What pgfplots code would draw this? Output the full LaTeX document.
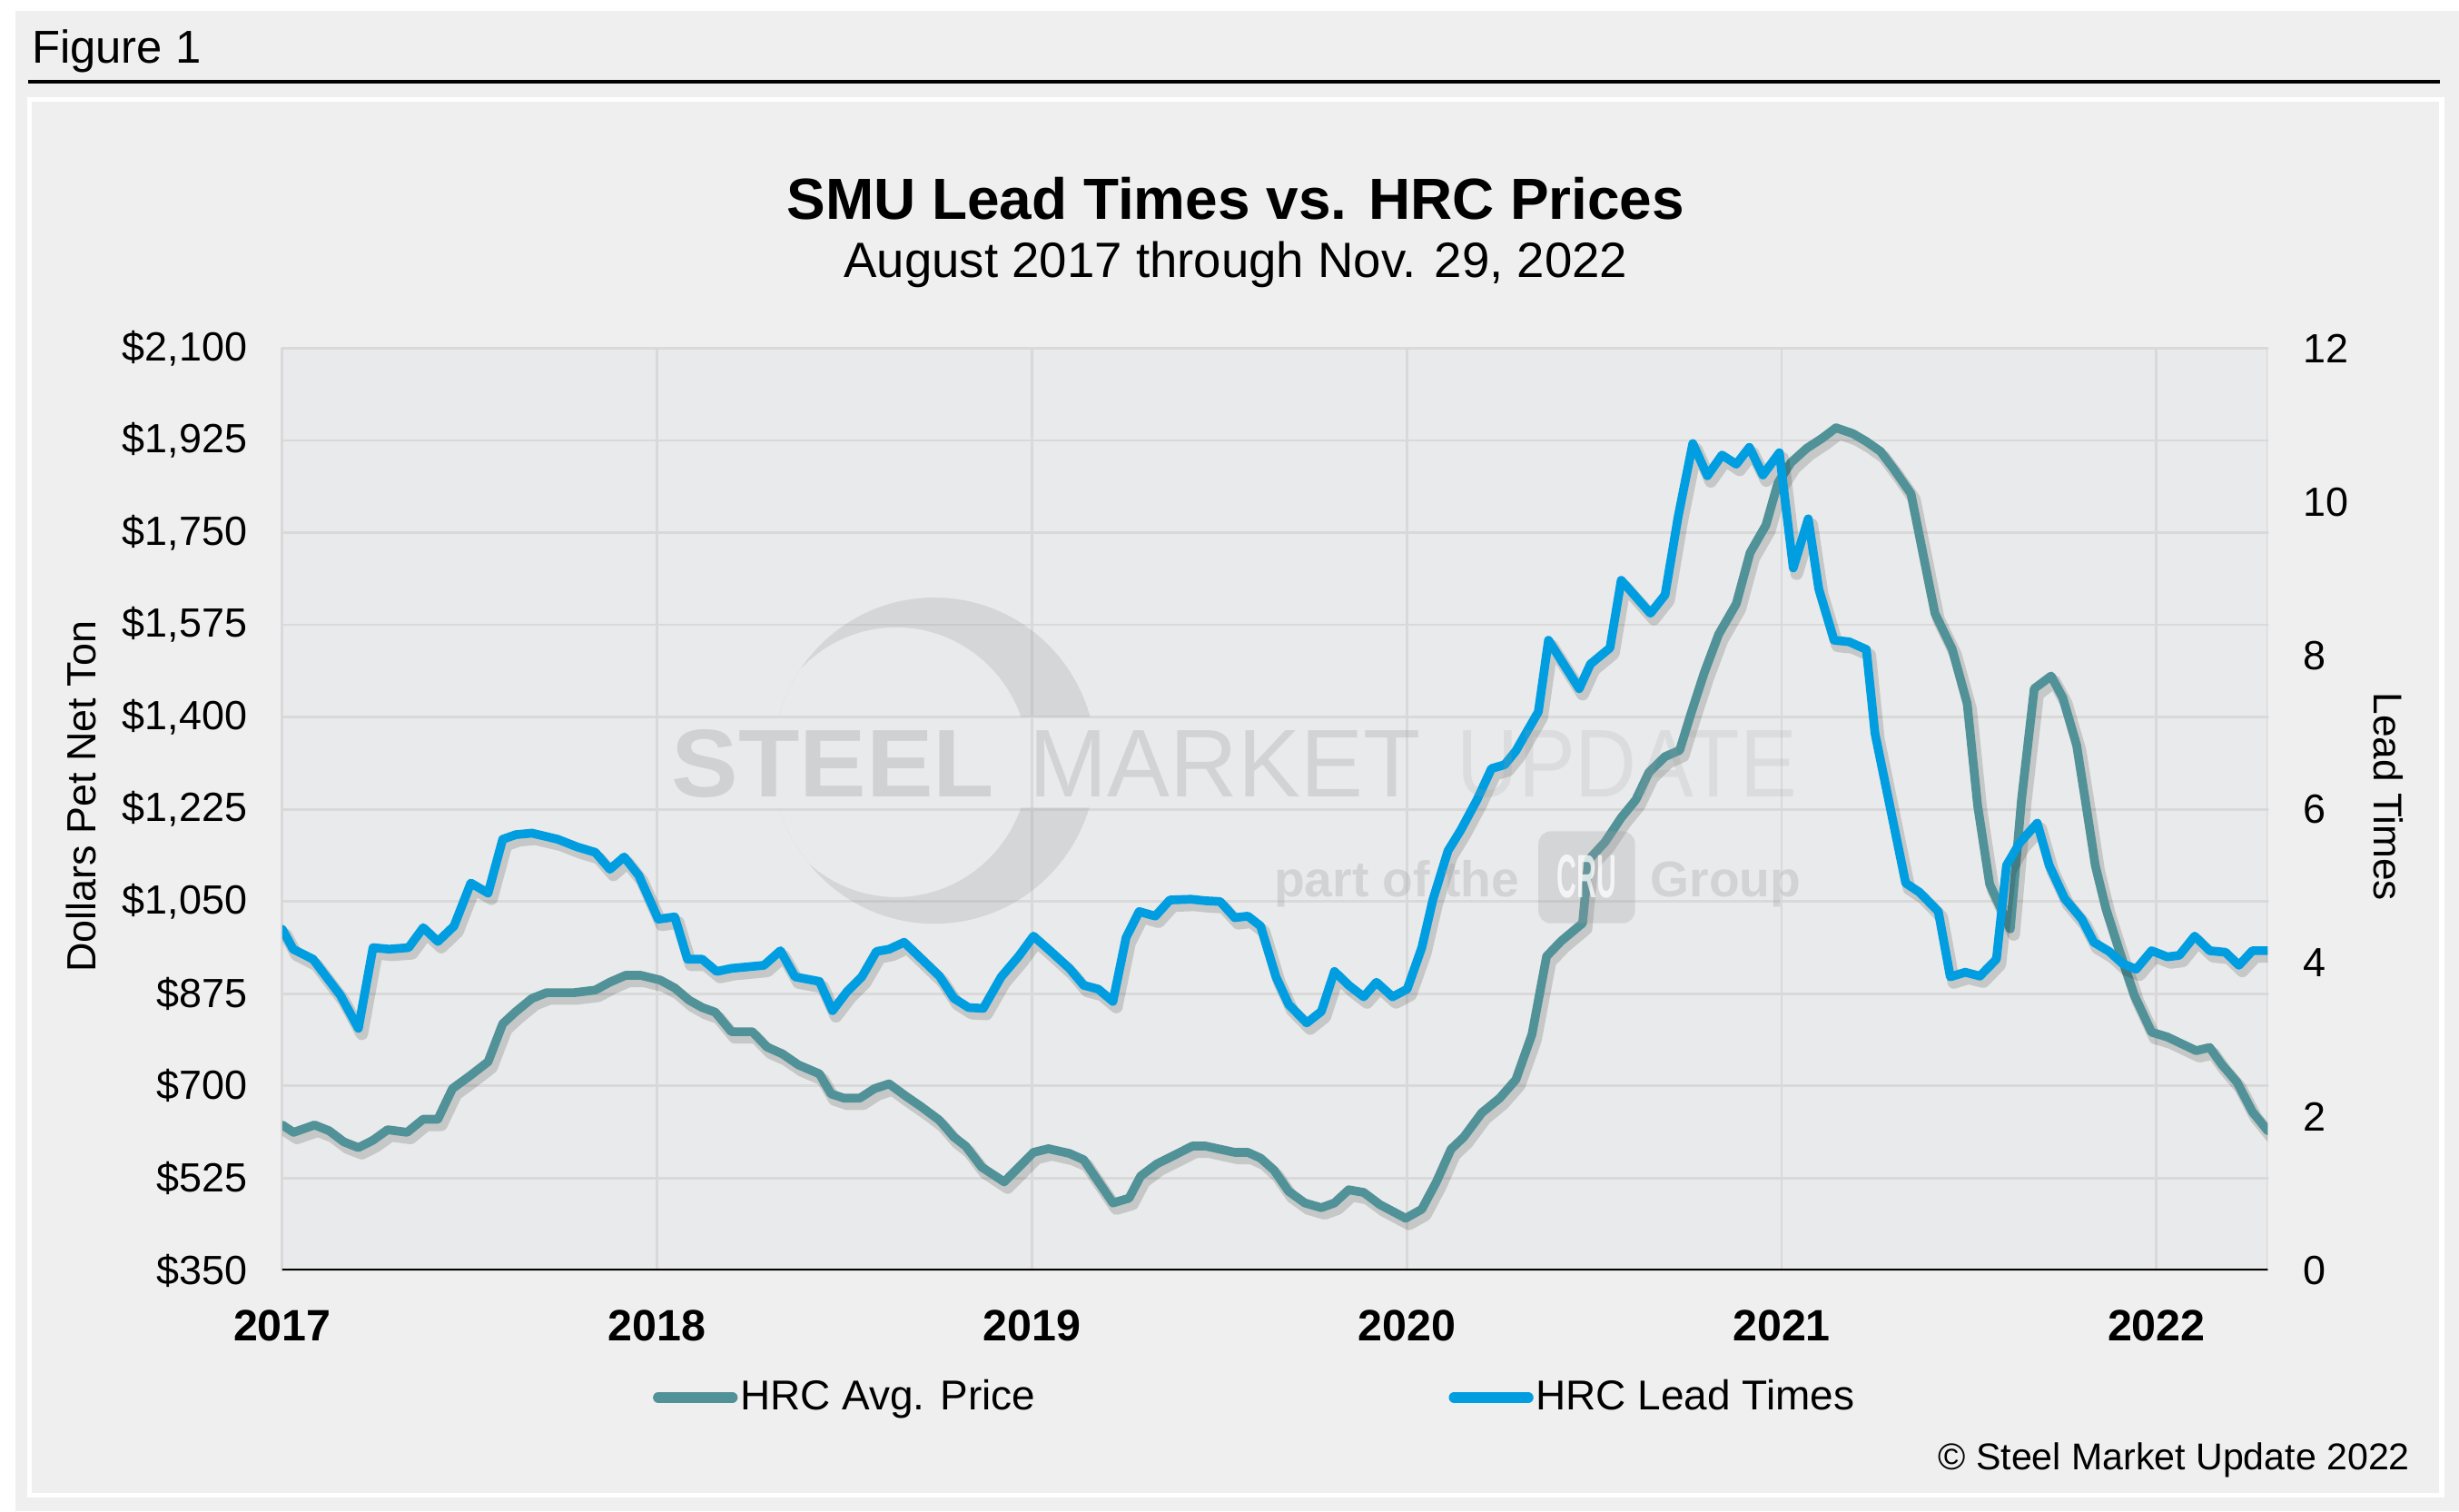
\documentclass[border=0pt]{standalone}
\usepackage{fontspec}
\setmainfont{Liberation Sans}
\usepackage{pgfplots}
\pgfplotsset{compat=1.18}
\definecolor{panelbg}{HTML}{EFEFEF}
\definecolor{plotbg}{HTML}{E9EAEB}
\definecolor{gridc}{HTML}{D9D9D9}
\definecolor{tealc}{HTML}{509298}
\definecolor{bluec}{HTML}{009EE0}
\definecolor{wmg}{HTML}{9E9FA0}
\begin{document}
\begin{tikzpicture}
% ---------- background (display px units) ----------
\begin{scope}[x=0.5bp,y=-0.5bp]
\fill[panelbg] (0,0) rectangle (1568,963.5);
\fill[white] (0,0) rectangle (1568,7);
\fill[white] (0,0) rectangle (10,963.5);
\draw[white, line width=1.5bp, fill=panelbg] (19,63.5) rectangle (1557,953.5);
\node[anchor=base west, inner sep=0pt, font=\fontsize{14.7bp}{16bp}\selectfont] at (20,40) {Figure 1};
\draw[black, line width=1bp] (18,52) -- (1556,52);
\fill[plotbg] (180,222) rectangle (1446,810);
\end{scope}

% ---------- price axis (left) ----------
\begin{axis}[
  at={(90bp,-405bp)}, anchor=south west,
  scale only axis, width=633bp, height=294bp,
  xmin=0, xmax=5.297, ymin=350, ymax=2100,
  axis line style={draw=none},
  major tick style={draw=none}, minor tick style={draw=none},
  xtick={0,1,2,3,4,5},
  xticklabels={2017,2018,2019,2020,2021,2022},
  ytick={350,525,700,875,1050,1225,1400,1575,1750,1925,2100},
  yticklabels={\$350,\$525,\$700,\$875,{\$1,050},{\$1,225},{\$1,400},{\$1,575},{\$1,750},{\$1,925},{\$2,100}},
  grid=major, major grid style={gridc, line width=0.8bp},
  xticklabel style={font=\bfseries\fontsize{14bp}{16bp}\selectfont, inner sep=0pt, yshift=-12.5bp},
  yticklabel style={font=\fontsize{13bp}{15bp}\selectfont, inner sep=0pt, xshift=-11bp},
  ylabel={Dollars Pet Net Ton},
  ylabel style={at={(axis description cs:-0.1011,0.5136)}, anchor=center, inner sep=0pt, font=\fontsize{13bp}{15bp}\selectfont},
  line join=round, line cap=round,
]
\draw[gridc, line width=0.8bp] (rel axis cs:1,0) -- (rel axis cs:1,1);
\addplot[black, opacity=0.15, line width=4bp, forget plot, transform canvas={xshift=1.1bp, yshift=-1.8bp}] coordinates {
(0,626) (0.030,612) (0.086,626) (0.125,615) (0.164,594) (0.203,583) (0.242,597) (0.281,617) (0.333,612) (0.376,637) (0.415,637) (0.454,695) (0.502,720) (0.549,746) (0.588,818) (0.623,841) (0.666,866) (0.705,877) (0.778,877) (0.835,882) (0.874,897) (0.916,910) (0.956,910) (1.008,901) (1.047,886) (1.085,863) (1.120,849) (1.155,840) (1.198,803) (1.254,803) (1.293,774) (1.334,761) (1.377,740) (1.433,723) (1.464,685) (1.498,677) (1.541,677) (1.580,695) (1.619,704) (1.663,681) (1.706,660) (1.753,635) (1.792,603) (1.823,586) (1.866,546) (1.926,518) (1.965,546) (2.004,574) (2.044,581) (2.100,572) (2.138,560) (2.173,523) (2.216,478) (2.259,487) (2.290,529) (2.333,552) (2.381,569) (2.428,586) (2.463,586) (2.502,580) (2.541,574) (2.576,574) (2.610,563) (2.646,540) (2.685,500) (2.728,478) (2.772,469) (2.807,478) (2.845,503) (2.885,498) (2.928,475) (2.997,449) (3.040,466) (3.079,518) (3.118,580) (3.152,603) (3.200,649) (3.248,677) (3.291,712) (3.334,798) (3.373,946) (3.412,975) (3.469,1009) (3.485,1129) (3.529,1163) (3.572,1209) (3.611,1243) (3.646,1295) (3.689,1325) (3.728,1337) (3.757,1404) (3.793,1483) (3.832,1557) (3.879,1615) (3.916,1712) (3.958,1764) (3.990,1844) (4.025,1883) (4.067,1910) (4.108,1929) (4.145,1949) (4.190,1938) (4.226,1923) (4.264,1904) (4.300,1870) (4.345,1824) (4.409,1597) (4.455,1529) (4.495,1426) (4.523,1232) (4.555,1083) (4.610,998) (4.640,1243) (4.674,1454) (4.719,1478) (4.750,1437) (4.787,1347) (4.810,1243) (4.837,1118) (4.865,1037) (4.901,957) (4.941,872) (4.987,802) (5.029,793) (5.106,767) (5.142,773) (5.174,741) (5.215,707) (5.256,651) (5.297,615)
};
\addplot[tealc, line width=2.8bp] coordinates {
(0,626) (0.030,612) (0.086,626) (0.125,615) (0.164,594) (0.203,583) (0.242,597) (0.281,617) (0.333,612) (0.376,637) (0.415,637) (0.454,695) (0.502,720) (0.549,746) (0.588,818) (0.623,841) (0.666,866) (0.705,877) (0.778,877) (0.835,882) (0.874,897) (0.916,910) (0.956,910) (1.008,901) (1.047,886) (1.085,863) (1.120,849) (1.155,840) (1.198,803) (1.254,803) (1.293,774) (1.334,761) (1.377,740) (1.433,723) (1.464,685) (1.498,677) (1.541,677) (1.580,695) (1.619,704) (1.663,681) (1.706,660) (1.753,635) (1.792,603) (1.823,586) (1.866,546) (1.926,518) (1.965,546) (2.004,574) (2.044,581) (2.100,572) (2.138,560) (2.173,523) (2.216,478) (2.259,487) (2.290,529) (2.333,552) (2.381,569) (2.428,586) (2.463,586) (2.502,580) (2.541,574) (2.576,574) (2.610,563) (2.646,540) (2.685,500) (2.728,478) (2.772,469) (2.807,478) (2.845,503) (2.885,498) (2.928,475) (2.997,449) (3.040,466) (3.079,518) (3.118,580) (3.152,603) (3.200,649) (3.248,677) (3.291,712) (3.334,798) (3.373,946) (3.412,975) (3.469,1009) (3.485,1129) (3.529,1163) (3.572,1209) (3.611,1243) (3.646,1295) (3.689,1325) (3.728,1337) (3.757,1404) (3.793,1483) (3.832,1557) (3.879,1615) (3.916,1712) (3.958,1764) (3.990,1844) (4.025,1883) (4.067,1910) (4.108,1929) (4.145,1949) (4.190,1938) (4.226,1923) (4.264,1904) (4.300,1870) (4.345,1824) (4.409,1597) (4.455,1529) (4.495,1426) (4.523,1232) (4.555,1083) (4.610,998) (4.640,1243) (4.674,1454) (4.719,1478) (4.750,1437) (4.787,1347) (4.810,1243) (4.837,1118) (4.865,1037) (4.901,957) (4.941,872) (4.987,802) (5.029,793) (5.106,767) (5.142,773) (5.174,741) (5.215,707) (5.256,651) (5.297,615)
};
\end{axis}

% ---------- lead-time axis (right) ----------
\begin{axis}[
  at={(90bp,-405bp)}, anchor=south west,
  scale only axis, width=633bp, height=294bp,
  xmin=0, xmax=5.297, ymin=0, ymax=12,
  axis line style={draw=none},
  major tick style={draw=none}, minor tick style={draw=none},
  xtick=\empty,
  ytick={0,2,4,6,8,10,12},
  yticklabels={0,2,4,6,8,10,12},
  yticklabel pos=right,
  yticklabel style={font=\fontsize{13bp}{15bp}\selectfont, inner sep=0pt, xshift=11bp},
  ylabel={Lead Times},
  ylabel style={at={(axis description cs:1.0608,0.5136)}, anchor=center, inner sep=0pt, rotate=180, font=\fontsize{12.8bp}{15bp}\selectfont},
  line join=round, line cap=round,
  legend columns=2,
  legend style={at={(axis description cs:0.1864,-0.1378)}, anchor=west, draw=none, fill=none, inner sep=0pt,
    font=\fontsize{13.3bp}{15bp}\selectfont,
    nodes={inner sep=0.8bp},
    /tikz/every even column/.append style={column sep=131bp}},
  legend image code/.code={\draw[#1, line width=3.4bp, line cap=round] (1.7bp,0bp) -- (25.3bp,0bp);},
]
\addlegendimage{tealc}
\addlegendentry{HRC Avg. Price}
\addplot[black, opacity=0.15, line width=4bp, forget plot, transform canvas={xshift=1.1bp, yshift=-1.8bp}] coordinates {
(0,4.44) (0.029,4.18) (0.082,4.05) (0.155,3.58) (0.203,3.15) (0.242,4.20) (0.285,4.18) (0.337,4.20) (0.376,4.46) (0.415,4.28) (0.458,4.48) (0.503,5.04) (0.549,4.91) (0.588,5.61) (0.623,5.67) (0.666,5.69) (0.735,5.61) (0.787,5.51) (0.835,5.44) (0.874,5.22) (0.912,5.38) (0.951,5.14) (1.003,4.57) (1.047,4.60) (1.081,4.05) (1.120,4.05) (1.159,3.89) (1.198,3.93) (1.285,3.97) (1.329,4.16) (1.368,3.82) (1.433,3.76) (1.468,3.38) (1.507,3.63) (1.546,3.82) (1.585,4.15) (1.619,4.18) (1.659,4.27) (1.706,4.05) (1.753,3.83) (1.792,3.54) (1.831,3.42) (1.870,3.41) (1.918,3.82) (1.965,4.09) (2.004,4.35) (2.048,4.16) (2.100,3.93) (2.138,3.71) (2.177,3.66) (2.216,3.50) (2.251,4.33) (2.286,4.67) (2.329,4.61) (2.368,4.82) (2.424,4.83) (2.463,4.81) (2.502,4.80) (2.541,4.59) (2.576,4.61) (2.610,4.48) (2.651,3.82) (2.685,3.46) (2.733,3.22) (2.772,3.37) (2.807,3.89) (2.845,3.71) (2.885,3.56) (2.919,3.75) (2.962,3.56) (3.001,3.66) (3.040,4.20) (3.070,4.83) (3.110,5.46) (3.144,5.73) (3.187,6.12) (3.226,6.53) (3.261,6.58) (3.291,6.76) (3.351,7.27) (3.378,8.20) (3.460,7.57) (3.490,7.89) (3.542,8.10) (3.572,8.98) (3.650,8.55) (3.689,8.79) (3.724,9.81) (3.763,10.76) (3.802,10.34) (3.841,10.61) (3.879,10.49) (3.914,10.71) (3.950,10.35) (3.994,10.64) (4.031,9.14) (4.071,9.78) (4.099,8.87) (4.140,8.20) (4.180,8.18) (4.226,8.08) (4.249,6.99) (4.331,5.04) (4.368,4.92) (4.418,4.67) (4.450,3.82) (4.490,3.88) (4.529,3.83) (4.573,4.05) (4.600,5.27) (4.636,5.57) (4.682,5.82) (4.714,5.27) (4.755,4.84) (4.801,4.57) (4.833,4.27) (4.874,4.15) (4.910,3.99) (4.946,3.92) (4.987,4.16) (5.029,4.08) (5.061,4.10) (5.102,4.35) (5.142,4.16) (5.184,4.14) (5.220,3.97) (5.256,4.16) (5.297,4.16)
};
\addplot[bluec, line width=2.8bp] coordinates {
(0,4.44) (0.029,4.18) (0.082,4.05) (0.155,3.58) (0.203,3.15) (0.242,4.20) (0.285,4.18) (0.337,4.20) (0.376,4.46) (0.415,4.28) (0.458,4.48) (0.503,5.04) (0.549,4.91) (0.588,5.61) (0.623,5.67) (0.666,5.69) (0.735,5.61) (0.787,5.51) (0.835,5.44) (0.874,5.22) (0.912,5.38) (0.951,5.14) (1.003,4.57) (1.047,4.60) (1.081,4.05) (1.120,4.05) (1.159,3.89) (1.198,3.93) (1.285,3.97) (1.329,4.16) (1.368,3.82) (1.433,3.76) (1.468,3.38) (1.507,3.63) (1.546,3.82) (1.585,4.15) (1.619,4.18) (1.659,4.27) (1.706,4.05) (1.753,3.83) (1.792,3.54) (1.831,3.42) (1.870,3.41) (1.918,3.82) (1.965,4.09) (2.004,4.35) (2.048,4.16) (2.100,3.93) (2.138,3.71) (2.177,3.66) (2.216,3.50) (2.251,4.33) (2.286,4.67) (2.329,4.61) (2.368,4.82) (2.424,4.83) (2.463,4.81) (2.502,4.80) (2.541,4.59) (2.576,4.61) (2.610,4.48) (2.651,3.82) (2.685,3.46) (2.733,3.22) (2.772,3.37) (2.807,3.89) (2.845,3.71) (2.885,3.56) (2.919,3.75) (2.962,3.56) (3.001,3.66) (3.040,4.20) (3.070,4.83) (3.110,5.46) (3.144,5.73) (3.187,6.12) (3.226,6.53) (3.261,6.58) (3.291,6.76) (3.351,7.27) (3.378,8.20) (3.460,7.57) (3.490,7.89) (3.542,8.10) (3.572,8.98) (3.650,8.55) (3.689,8.79) (3.724,9.81) (3.763,10.76) (3.802,10.34) (3.841,10.61) (3.879,10.49) (3.914,10.71) (3.950,10.35) (3.994,10.64) (4.031,9.14) (4.071,9.78) (4.099,8.87) (4.140,8.20) (4.180,8.18) (4.226,8.08) (4.249,6.99) (4.331,5.04) (4.368,4.92) (4.418,4.67) (4.450,3.82) (4.490,3.88) (4.529,3.83) (4.573,4.05) (4.600,5.27) (4.636,5.57) (4.682,5.82) (4.714,5.27) (4.755,4.84) (4.801,4.57) (4.833,4.27) (4.874,4.15) (4.910,3.99) (4.946,3.92) (4.987,4.16) (5.029,4.08) (5.061,4.10) (5.102,4.35) (5.142,4.16) (5.184,4.14) (5.220,3.97) (5.256,4.16) (5.297,4.16)
};
\addlegendentry{HRC Lead Times}
\draw[black, line width=1.4bp] (rel axis cs:0,0) -- (rel axis cs:1,0);
\end{axis}

% ---------- watermark (over the plot, translucent), titles and credit ----------
\begin{scope}[x=0.5bp,y=-0.5bp]
\begin{scope}
\clip (0,222) rectangle (1568,457) (0,515) rectangle (1568,810);
\clip (595.8,485) ellipse [x radius=103.2, y radius=104];
\fill[wmg, fill opacity=0.26, even odd rule] (595.8,485) ellipse [x radius=103.2, y radius=104]
      (571.5,486) ellipse [x radius=84.5, y radius=86];
\end{scope}
\node[text=wmg, text opacity=0.32, anchor=base west, inner sep=0pt, xscale=1.04, font=\bfseries\fontsize{30.7bp}{32bp}\selectfont] at (428,508) {STEEL};
\node[text=wmg, text opacity=0.30, anchor=base west, inner sep=0pt, xscale=0.975, font=\fontsize{30.7bp}{32bp}\selectfont] at (656,508) {MARKET};
\node[text=wmg, text opacity=0.18, anchor=base west, inner sep=0pt, xscale=0.888, font=\fontsize{30.7bp}{32bp}\selectfont] at (928.5,508) {UPDATE};
\node[text=wmg, text opacity=0.30, anchor=base west, inner sep=0pt, font=\bfseries\fontsize{16bp}{18bp}\selectfont] at (812,572) {part of the};
\node[text=wmg, text opacity=0.30, anchor=base west, inner sep=0pt, font=\bfseries\fontsize{16bp}{18bp}\selectfont] at (1052,572) {Group};
\fill[wmg, fill opacity=0.28, rounded corners=4bp] (981,530) rectangle (1042.6,588.7);
\node[text=white, text opacity=0.75, inner sep=0pt, xscale=0.45, font=\bfseries\fontsize{19.5bp}{20bp}\selectfont] at (1011.8,559) {CRU};
\node[anchor=base, inner sep=0pt, font=\bfseries\fontsize{18.5bp}{20bp}\selectfont] at (788,140) {SMU Lead Times vs. HRC Prices};
\node[anchor=base, inner sep=0pt, font=\fontsize{15.8bp}{18bp}\selectfont] at (788,177) {August 2017 through Nov. 29, 2022};
\node[anchor=base east, inner sep=0pt, font=\fontsize{11.9bp}{14bp}\selectfont] at (1537,937) {© Steel Market Update 2022};
\path[use as bounding box] (0,0) rectangle (1568,963.5);
\end{scope}
\end{tikzpicture}
\end{document}
